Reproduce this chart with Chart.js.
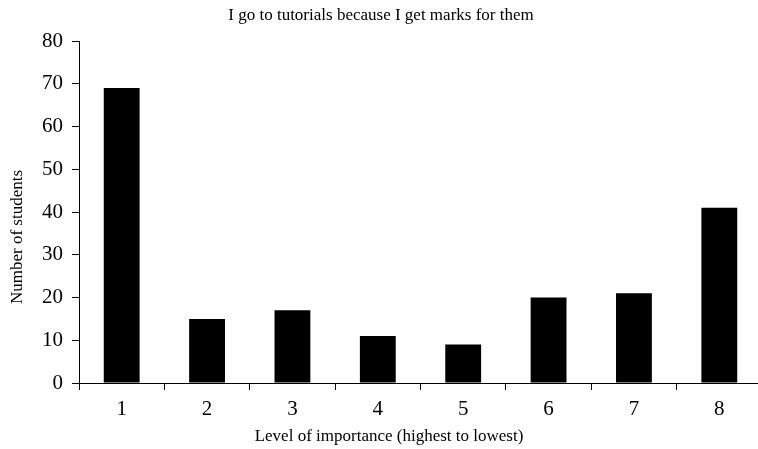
<!DOCTYPE html>
<html>
<head>
<meta charset="utf-8">
<script src="https://cdn.jsdelivr.net/npm/chart.js@4"></script>
<style>
  html, body { margin: 0; padding: 0; overflow: hidden; background: #fff; }
  #wrap { width: 764px; height: 449px; }
</style>
</head>
<body>
<div id="wrap"><canvas id="bars" width="764" height="449"></canvas></div>
<script>
const levels = ['1', '2', '3', '4', '5', '6', '7', '8'];
const students = [69, 15, 17, 11, 9, 20, 21, 41];
const yTicks = [0, 10, 20, 30, 40, 50, 60, 70, 80];

const serif = 'Liberation Serif, Times New Roman, serif';

// axis titles sit off-centre in the original, so draw them by hand
const axisTitles = {
  id: 'axisTitles',
  afterDraw(chart) {
    const c = chart.ctx;
    c.save();
    c.fillStyle = '#000';
    c.font = '17px ' + serif;
    c.textAlign = 'center';
    c.textBaseline = 'middle';
    c.fillText('Level of importance (highest to lowest)', 389, 437);
    c.translate(18, 237);
    c.rotate(-Math.PI / 2);
    c.fillText('Number of students', 0, 0);
    c.restore();
  }
};

const ctx = document.getElementById('bars');

const chart = new Chart(ctx, {
  type: 'bar',
  data: {
    labels: levels,
    datasets: [{
      label: 'Number of students',
      data: students,
      backgroundColor: '#000',
      borderWidth: 0,
      categoryPercentage: 1,
      barPercentage: 0.42
    }]
  },
  options: {
    responsive: false,
    animation: false,
    layout: { padding: { top: 0, right: 2, bottom: 0, left: 0 } },
    plugins: {
      legend: { display: false },
      tooltip: { enabled: false },
      title: {
        display: true,
        text: 'I go to tutorials because I get marks for them',
        color: '#000',
        font: { family: serif, size: 17, weight: 'normal' },
        padding: { top: 5, bottom: 15.6 }
      }
    },
    scales: {
      x: {
        grid: { display: true, drawOnChartArea: false, drawTicks: true, tickLength: 7, color: '#000' },
        border: { display: true, color: '#000', width: 1 },
        ticks: { color: '#000', font: { family: serif, size: 21 }, padding: 7 },
        afterFit: s => { s.height = 66; }
      },
      y: {
        min: 0,
        max: 80,
        afterBuildTicks: s => { s.ticks = yTicks.map(v => ({ value: v })); },
        grid: { display: true, drawOnChartArea: false, drawTicks: true, tickLength: 7, color: '#000' },
        border: { display: true, color: '#000', width: 1 },
        ticks: { color: '#000', font: { family: serif, size: 21 }, padding: 9 },
        afterFit: s => { s.width = 79; }
      }
    }
  },
  plugins: [axisTitles]
});
</script>
</body>
</html>
